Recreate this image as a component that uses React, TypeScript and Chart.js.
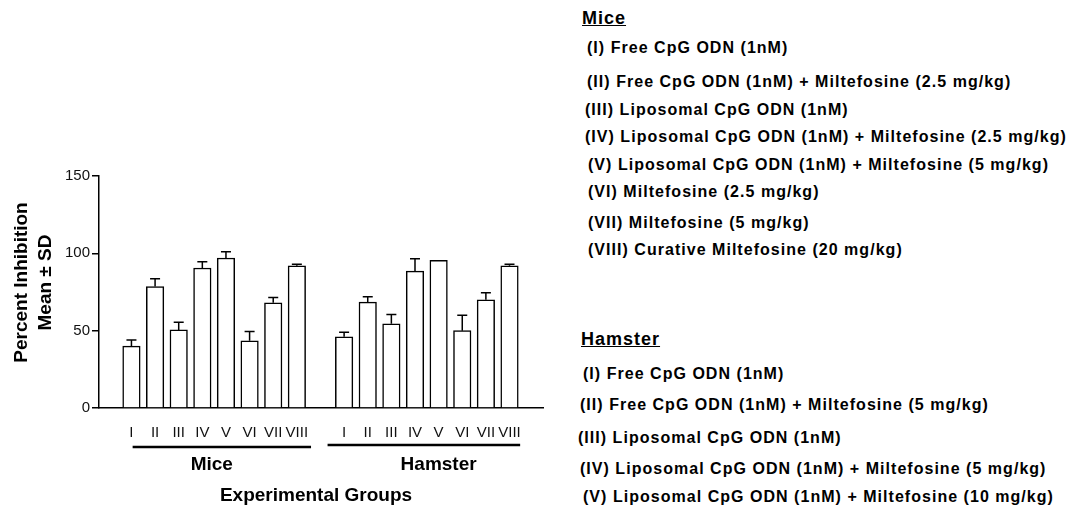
import React, { useEffect, useRef } from 'react';
import { Chart, registerables } from 'chart.js';

Chart.register(...registerables);

// ---------- data ----------
const groupLabels = ['I', 'II', 'III', 'IV', 'V', 'VI', 'VII', 'VIII'];
const miceMean = [40, 78.5, 50.5, 90.5, 97, 43.5, 68, 92];
const miceSD = [4, 5, 5, 4, 4, 6, 3.5, 1];
const hamsterMean = [46, 68.5, 54.5, 88.5, 95.5, 50, 70, 92];
const hamsterSD = [3, 3.5, 6, 8, 0, 10, 4.5, 1];
const yTicks = [0, 50, 100, 150];
const speciesNames = ['Mice', 'Hamster'];
const yTitle = ['Percent Inhibition', 'Mean ± SD'];
const xTitle = 'Experimental Groups';

const miceLegend = [
  '(I) Free CpG ODN (1nM)',
  '(II) Free CpG ODN (1nM) + Miltefosine (2.5 mg/kg)',
  '(III) Liposomal CpG ODN (1nM)',
  '(IV) Liposomal CpG ODN (1nM) + Miltefosine (2.5 mg/kg)',
  '(V) Liposomal CpG ODN (1nM) + Miltefosine (5 mg/kg)',
  '(VI) Miltefosine (2.5 mg/kg)',
  '(VII) Miltefosine (5 mg/kg)',
  '(VIII) Curative Miltefosine (20 mg/kg)',
];
const hamsterLegend = [
  '(I) Free CpG ODN (1nM)',
  '(II) Free CpG ODN (1nM) + Miltefosine (5 mg/kg)',
  '(III) Liposomal CpG ODN (1nM)',
  '(IV) Liposomal CpG ODN (1nM) + Miltefosine (5 mg/kg)',
  '(V) Liposomal CpG ODN (1nM) + Miltefosine (10 mg/kg)',
];

// ---------- layout (positions, not data) ----------
const FONT = '"Liberation Sans", Arial, Helvetica, sans-serif';
const miceX = groupLabels.map((_, i) => i + 1);
const hamsterX = groupLabels.map((_, i) => i + 10);
const tickValues = [...miceX, ...hamsterX];
const groupSpans = [
  { from: 1.05, to: 8.6, labelAt: 4.4, lineY: 447 },
  { from: 9.3, to: 17.45, labelAt: 14.0, lineY: 445 },
];
const miceLegendPos = [
  [587, 49], [587, 82.7], [585, 111.3], [585, 138], [588, 166], [588, 193.3], [588, 224], [588, 250.7],
];
const hamsterLegendPos = [
  [583, 375.3], [580, 405.7], [578, 438.7], [580, 470], [583, 498.3],
];
const legendTitlePos = [
  [582, 18.5],
  [581, 340],
];

const labelFor = (v: number) => {
  const i = miceX.indexOf(v);
  if (i >= 0) return groupLabels[i];
  const j = hamsterX.indexOf(v);
  return j >= 0 ? groupLabels[j] : '';
};

const errorBarPlugin = {
  id: 'errorBars',
  afterDatasetsDraw(chart: any) {
    const ctx = chart.ctx;
    const y = chart.scales.y;
    const sds = [miceSD, hamsterSD];
    const means = [miceMean, hamsterMean];
    chart.data.datasets.forEach((_: any, di: number) => {
      const meta = chart.getDatasetMeta(di);
      meta.data.forEach((bar: any, i: number) => {
        const sd = sds[di][i];
        if (!sd) return;
        const top = y.getPixelForValue(means[di][i] + sd);
        ctx.save();
        ctx.strokeStyle = '#000';
        ctx.lineWidth = 1.5;
        ctx.beginPath();
        ctx.moveTo(bar.x, bar.y);
        ctx.lineTo(bar.x, top);
        ctx.moveTo(bar.x - 5, top);
        ctx.lineTo(bar.x + 5, top);
        ctx.stroke();
        ctx.restore();
      });
    });
  },
};

const decorPlugin = {
  id: 'decor',
  afterDraw(chart: any) {
    const ctx = chart.ctx;
    const x = chart.scales.x;
    const area = chart.chartArea;
    ctx.save();
    ctx.fillStyle = '#000';
    ctx.strokeStyle = '#000';
    // group lines + labels
    groupSpans.forEach((g, k) => {
      ctx.lineWidth = 2.5;
      ctx.beginPath();
      ctx.moveTo(x.getPixelForValue(g.from), g.lineY);
      ctx.lineTo(x.getPixelForValue(g.to), g.lineY);
      ctx.stroke();
      ctx.font = `bold 19px ${FONT}`;
      ctx.textAlign = 'center';
      ctx.textBaseline = 'alphabetic';
      ctx.fillText(speciesNames[k], x.getPixelForValue(g.labelAt), 470);
    });
    // x title
    ctx.font = `bold 19px ${FONT}`;
    ctx.textAlign = 'center';
    ctx.fillText(xTitle, (area.left + area.right) / 2 - 5, 501);
    // y title
    const cy = (area.top + area.bottom) / 2 - 9.5;
    ctx.translate(27, cy);
    ctx.rotate(-Math.PI / 2);
    ctx.fillText(yTitle[0], 0, 0);
    ctx.fillText(yTitle[1], 0, 23.7);
    ctx.restore();
  },
};

export default function App() {
  const ref = useRef<HTMLCanvasElement | null>(null);

  useEffect(() => {
    if (!ref.current) return;
    const barStyle = {
      backgroundColor: '#ffffff',
      borderColor: '#000000',
      borderWidth: 1.5,
      barThickness: 17.5,
      grouped: false,
    };
    const chart = new Chart(ref.current, {
      type: 'bar',
      data: {
        datasets: [
          { label: speciesNames[0], data: miceX.map((v, i) => ({ x: v, y: miceMean[i] })), ...barStyle },
          { label: speciesNames[1], data: hamsterX.map((v, i) => ({ x: v, y: hamsterMean[i] })), ...barStyle },
        ] as any,
      },
      options: {
        animation: false,
        responsive: false,
        layout: { padding: { top: 176, right: 17, left: 0, bottom: 0 } },
        plugins: { legend: { display: false }, tooltip: { enabled: false } },
        scales: {
          x: {
            type: 'linear',
            min: 0.214,
            max: 17.83,
            grid: { display: false },
            border: { display: true, color: '#000', width: 1.5 },
            afterBuildTicks: (s: any) => {
              s.ticks = tickValues.map((v) => ({ value: v }));
            },
            afterFit: (s: any) => {
              s.height = 99;
            },
            ticks: {
              autoSkip: false,
              maxRotation: 0,
              padding: 8,
              color: '#111',
              font: { family: FONT, size: 15 },
              callback: (v: any) => labelFor(Number(v)),
            },
          },
          y: {
            min: 0,
            max: 150,
            afterBuildTicks: (s: any) => {
              s.ticks = yTicks.map((v) => ({ value: v }));
            },
            afterFit: (s: any) => {
              s.width = 99;
            },
            grid: { drawOnChartArea: false, drawTicks: true, tickLength: 7, color: '#000', lineWidth: 1.5 },
            border: { color: '#000', width: 1.5 },
            ticks: { padding: 2, color: '#111', font: { family: FONT, size: 15 } },
          },
        } as any,
      },
      plugins: [errorBarPlugin, decorPlugin],
    });
    return () => chart.destroy();
  }, []);

  const lineStyle = (x: number, y: number): React.CSSProperties => ({
    position: 'absolute',
    left: x,
    top: y - 10,
    lineHeight: '20px',
    font: `bold 16px ${FONT}`,
    letterSpacing: '1.03px',
    whiteSpace: 'nowrap',
    color: '#000',
  });
  const titleStyle = (x: number, y: number): React.CSSProperties => ({
    position: 'absolute',
    left: x,
    top: y - 11,
    lineHeight: '22px',
    font: `bold 18px ${FONT}`,
    letterSpacing: '1px',
    textDecoration: 'underline',
    whiteSpace: 'nowrap',
    color: '#000',
  });

  return (
    <div style={{ position: 'absolute', left: 0, top: 0, width: 1072, height: 507, background: '#fff', overflow: 'hidden' }}>
      <canvas ref={ref} width={560} height={507} style={{ position: 'absolute', left: 0, top: 0, display: 'block' }} />
      <div style={titleStyle(legendTitlePos[0][0], legendTitlePos[0][1])}>{speciesNames[0]}</div>
      {miceLegend.map((t, i) => (
        <div key={'m' + i} style={lineStyle(miceLegendPos[i][0], miceLegendPos[i][1])}>{t}</div>
      ))}
      <div style={titleStyle(legendTitlePos[1][0], legendTitlePos[1][1])}>{speciesNames[1]}</div>
      {hamsterLegend.map((t, i) => (
        <div key={'h' + i} style={lineStyle(hamsterLegendPos[i][0], hamsterLegendPos[i][1])}>{t}</div>
      ))}
    </div>
  );
}
